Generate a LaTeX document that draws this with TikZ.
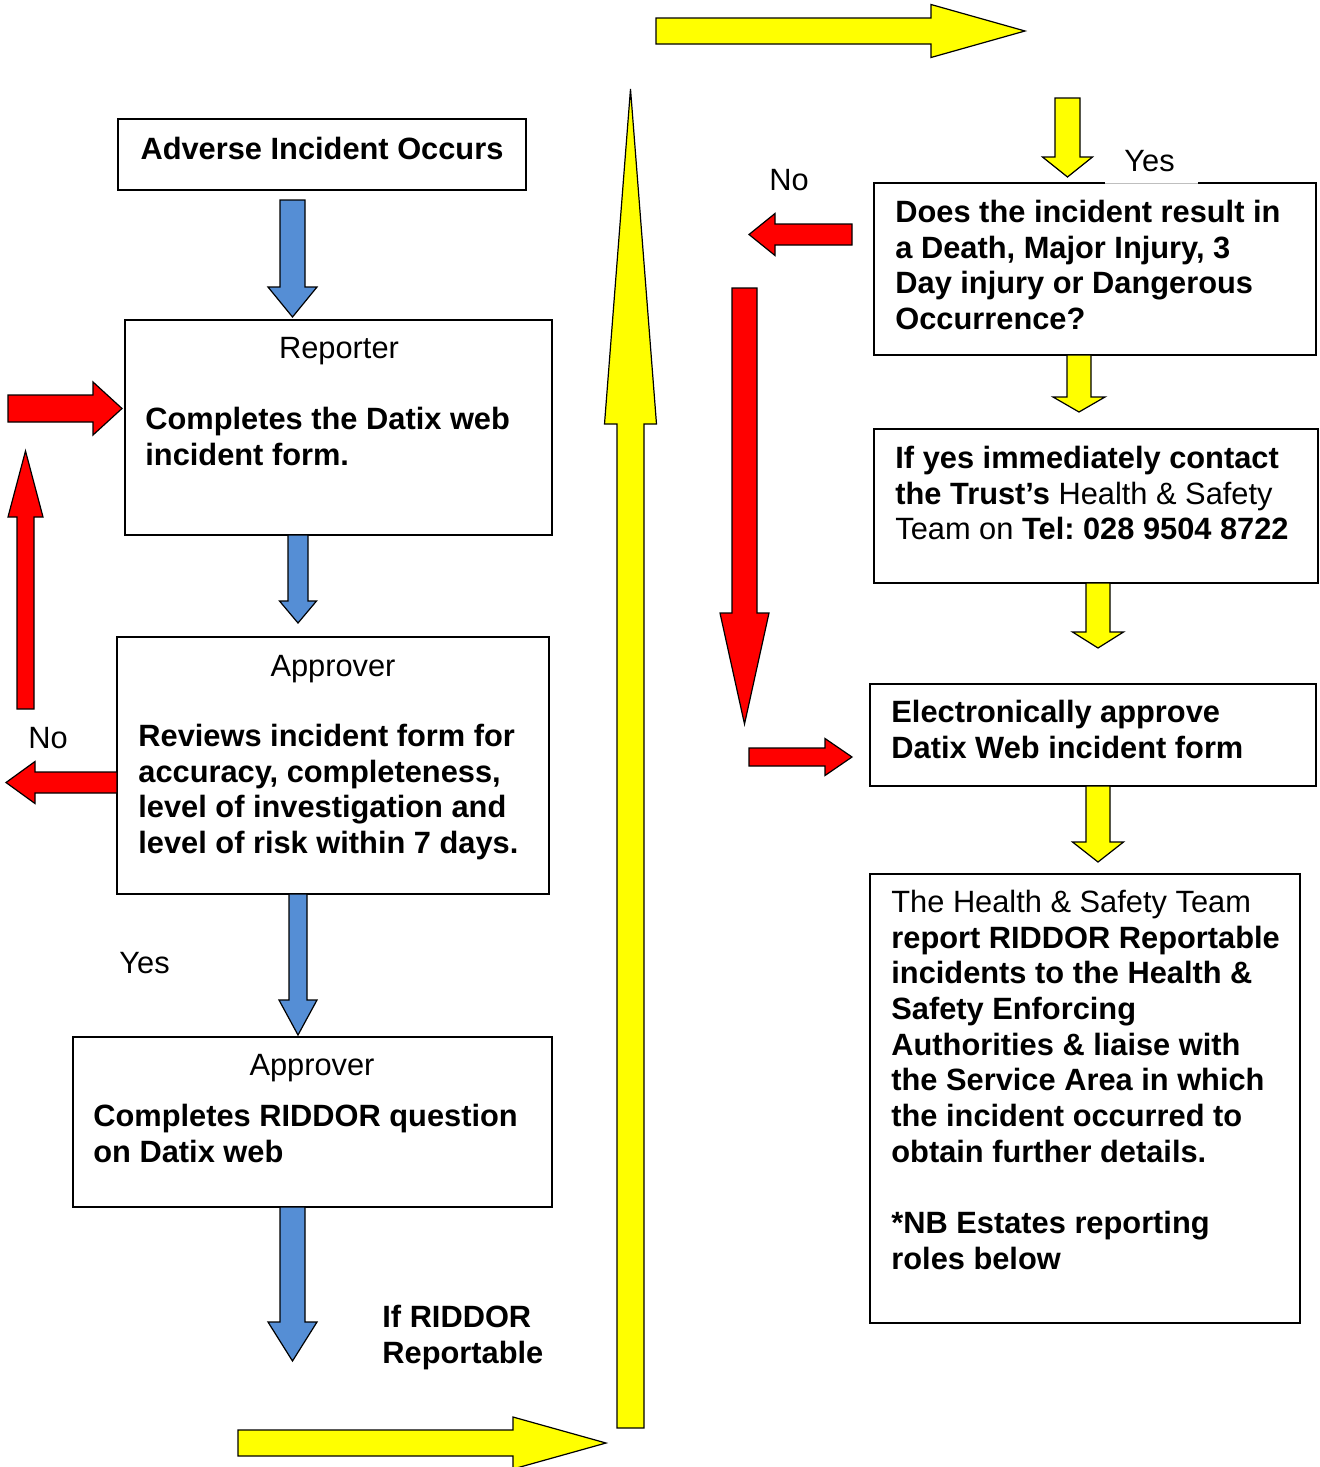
\documentclass[tikz,border=0pt]{standalone}
\usepackage{fontspec}
\setmainfont{Liberation Sans}
\newcommand\fs{\fontsize{15.4pt}{17.85pt}\selectfont\frenchspacing}
% strut that fixes the first baseline 12pt below the top of a text block
\newcommand\fl{\rule{0pt}{12pt}}
% block arrow: colour, start x, start y, direction, length, half shaft, half head, head length
\newcommand\blockarrow[8]{%
  \begin{scope}[shift={(#2,#3)},rotate=#4]
    \filldraw[arrowline,fill=#1] (0,-#6) -- ({#5-#8},-#6) -- ({#5-#8},-#7) -- (#5,0)
      -- ({#5-#8},#7) -- ({#5-#8},#6) -- (0,#6) -- cycle;
  \end{scope}}
\definecolor{bluearrow}{RGB}{85,142,213}
\definecolor{yellowarrow}{RGB}{255,255,0}
\definecolor{redarrow}{RGB}{255,0,0}
\begin{document}
\frenchspacing
\begin{tikzpicture}[x=0.5pt,y=-0.5pt,
  box/.style={draw=black, line width=0.9pt, fill=white, inner sep=0pt},
  txt/.style={inner sep=0pt, font=\fs, align=left},
  btxt/.style={inner sep=0pt, font=\fs\bfseries, align=left},
  arrowline/.style={draw=black, line width=0.6pt, line join=miter}]
\useasboundingbox (0,0) rectangle (1320,1467);

% ---- boxes ----
\node[box, minimum width=204pt, minimum height=35.5pt] (adverse) at (322,154.5) {};
\node[box, minimum width=213.5pt, minimum height=107.5pt] (reporter) at (338.5,427.5) {};
\node[box, minimum width=216pt, minimum height=128.5pt] (approver) at (333,765.5) {};
\node[box, minimum width=239.5pt, minimum height=85pt] (riddorq) at (312.5,1122) {};
\node[box, minimum width=221pt, minimum height=86pt] (question) at (1095,269) {};
\node[box, minimum width=222pt, minimum height=77pt] (contact) at (1096,506) {};
\node[box, minimum width=223pt, minimum height=51pt] (approve) at (1093,735) {};
\node[box, minimum width=215pt, minimum height=224.5pt] (report) at (1085,1098.5) {};

% ---- blue arrows (left column) ----
\blockarrow{bluearrow}{292.5}{200}{-90}{117}{12.5}{24.5}{30}
\blockarrow{bluearrow}{298}{535}{-90}{88}{10}{18.5}{22}
\blockarrow{bluearrow}{298}{894}{-90}{141}{9}{19}{35}
\blockarrow{bluearrow}{292.5}{1207}{-90}{154}{12.5}{24.5}{39}

% ---- yellow arrows ----
\blockarrow{yellowarrow}{656}{31}{0}{369}{13}{26.5}{94}
\blockarrow{yellowarrow}{630.5}{1428}{90}{1339}{13.5}{26}{335}
\blockarrow{yellowarrow}{238}{1443}{0}{368}{13}{26}{93}
\blockarrow{yellowarrow}{1067.5}{98}{-90}{79}{12.5}{25}{20}
\blockarrow{yellowarrow}{1079}{355}{-90}{57}{12}{26}{15}
\blockarrow{yellowarrow}{1098}{583}{-90}{65}{12}{25.5}{16}
\blockarrow{yellowarrow}{1098}{786}{-90}{76}{12}{25.5}{20}

% ---- red arrows ----
\blockarrow{redarrow}{8}{408.5}{0}{114}{13.5}{26.5}{29}
\blockarrow{redarrow}{25.5}{709}{90}{258}{8.5}{17.5}{66}
\blockarrow{redarrow}{117}{782.5}{180}{111}{10.5}{21}{29}
\blockarrow{redarrow}{852}{234.5}{180}{103}{10.5}{21}{26}
\blockarrow{redarrow}{744.5}{288}{-90}{436}{12.5}{24.5}{111}
\blockarrow{redarrow}{749}{757}{0}{103}{9}{18.5}{27}

% ---- box texts ----
\node[btxt, anchor=base] (t-adverse) at (322,159) {Adverse Incident Occurs};
\node[txt, anchor=base] (t-reporter) at (339,358) {Reporter};
\node[btxt, anchor=north west] (t-complete) at (145,405)
  {\fl Completes the Datix web\\incident form.};
\node[txt, anchor=base] (t-approver) at (333,676) {Approver};
\node[btxt, anchor=north west] (t-review) at (138,722)
  {\fl Reviews incident form for\\accuracy, completeness,\\level of investigation and\\level of risk within 7 days.};
\node[txt, anchor=base] (t-approver2) at (312,1075) {Approver};
\node[btxt, anchor=north west] (t-riddorq) at (93,1102)
  {\fl Completes RIDDOR question\\on Datix web};
\node[btxt, anchor=north west] (t-question) at (895,198)
  {\fl Does the incident result in\\a Death, Major Injury, 3\\Day injury or Dangerous\\Occurrence?};
\node[txt, anchor=north west] (t-contact) at (895,444)
  {\fl{\bfseries If yes immediately contact}\\{\bfseries the Trust’s} Health \& Safety\\Team on {\bfseries Tel:\ 028 9504 8722}};
\node[btxt, anchor=north west] (t-approve) at (891,698)
  {\fl Electronically approve\\Datix Web incident form};
\node[txt, anchor=north west] (t-report) at (891,888)
  {\fl The Health \& Safety Team\\
   {\bfseries report RIDDOR Reportable}\\
   {\bfseries incidents to the Health \&}\\
   {\bfseries Safety Enforcing}\\
   {\bfseries Authorities \& liaise with}\\
   {\bfseries the Service Area in which}\\
   {\bfseries the incident occurred to}\\
   {\bfseries obtain further details.}\\[17.85pt]
   {\bfseries *NB Estates reporting}\\
   {\bfseries roles below}};

% ---- branch labels ----
\fill[white] (1105,140) rectangle (1198,183.6);
\draw[gray!50, line width=0.4pt] (1105,183) -- (1198,183);
\node[txt, anchor=base west] (yes-top) at (1124,171) {Yes};
\node[txt, anchor=base west] (no-top) at (769,190) {No};
\node[txt, anchor=base west] (no-left) at (28,748) {No};
\node[txt, anchor=base west] (yes-left) at (119,973) {Yes};
\node[btxt, anchor=north west] (t-ifriddor) at (382,1303) {\fl If RIDDOR\\Reportable};
\end{tikzpicture}
\end{document}
